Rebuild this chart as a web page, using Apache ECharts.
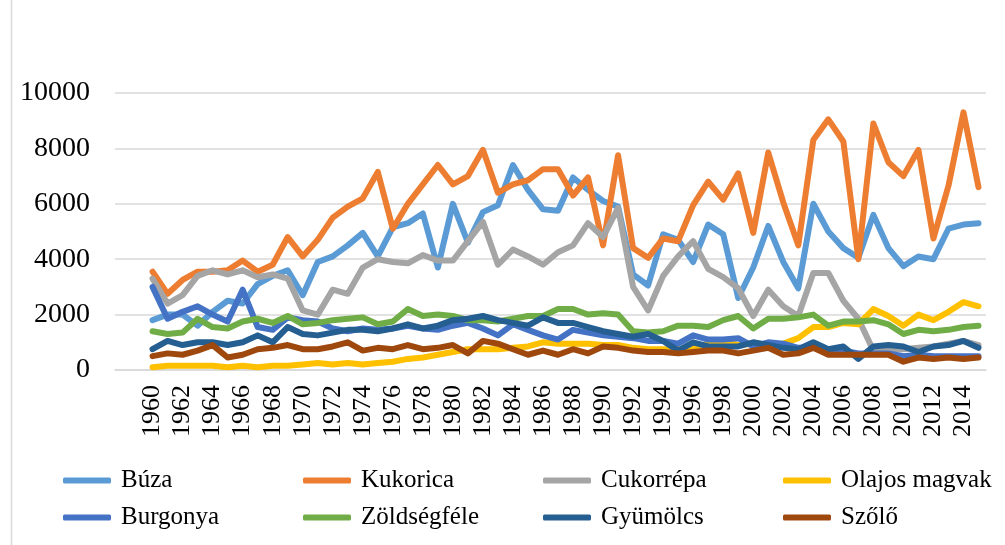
<!DOCTYPE html>
<html>
<head>
<meta charset="utf-8">
<script src="https://cdn.jsdelivr.net/npm/echarts@6/dist/echarts.min.js"></script>
<style>
  html, body { margin: 0; padding: 0; background: #fff; }
  #chart { width: 1005px; height: 545px; }
</style>
</head>
<body>
<div id="chart"></div>
<script>
// evek
const years = []
for (let y = 1960; y <= 2015; y++) years.push(String(y))

const buza = [1800, 2000, 2000, 1600, 2100, 2500, 2400, 3100, 3400, 3600, 2700, 3900, 4100, 4500, 4950, 4100, 5150, 5300, 5650, 3700,
  6000, 4600, 5700, 5950, 7400, 6500, 5800, 5750, 6950, 6500, 6100, 5900, 3450, 3050, 4900, 4700, 3900, 5250, 4900, 2600,
  3700, 5200, 3900, 2950, 6000, 5000, 4400, 4050, 5600, 4400, 3750, 4100, 4000, 5100, 5250, 5300]
const kukorica = [3550, 2750, 3250, 3550, 3550, 3600, 3950, 3550, 3800, 4800, 4100, 4700, 5500, 5900, 6200, 7150, 5100, 6000, 6700, 7400,
  6700, 7000, 7950, 6400, 6700, 6850, 7250, 7250, 6300, 6950, 4500, 7750, 4400, 4050, 4750, 4650, 5950, 6800, 6150, 7100,
  4950, 7850, 6050, 4500, 8300, 9050, 8250, 4000, 8900, 7500, 7000, 7950, 4750, 6650, 9300, 6600]
const cukorrepa = [3300, 2400, 2700, 3400, 3600, 3450, 3600, 3350, 3450, 3300, 2150, 2000, 2900, 2750, 3700, 4000, 3900, 3850, 4150, 3950,
  3950, 4650, 5350, 3800, 4350, 4100, 3800, 4250, 4500, 5300, 4800, 5850, 3000, 2150, 3400, 4100, 4650, 3650, 3350, 2950,
  1950, 2900, 2300, 1950, 3500, 3500, 2500, 1850, 700, 750, 750, 800, 850, 950, 1050, 900]
const olajos = [100, 150, 150, 150, 150, 100, 150, 100, 150, 150, 200, 250, 200, 250, 200, 250, 300, 400, 450, 550,
  650, 750, 750, 750, 800, 850, 1000, 950, 950, 950, 900, 900, 800, 750, 750, 750, 800, 950, 1050, 900,
  950, 900, 950, 1150, 1550, 1550, 1700, 1650, 2200, 1950, 1600, 2000, 1800, 2100, 2450, 2300]
const burgonya = [3000, 1850, 2100, 2300, 2000, 1750, 2900, 1550, 1450, 1900, 1800, 1750, 1500, 1400, 1500, 1450, 1500, 1600, 1500, 1450,
  1600, 1700, 1500, 1250, 1650, 1450, 1250, 1100, 1450, 1350, 1250, 1200, 1150, 1050, 1050, 950, 1250, 1100, 1100, 1150,
  850, 1000, 950, 800, 800, 700, 700, 600, 600, 600, 500, 550, 500, 500, 500, 500]
const zoldseg = [1400, 1300, 1350, 1850, 1550, 1500, 1750, 1850, 1700, 1950, 1650, 1700, 1800, 1850, 1900, 1650, 1750, 2200, 1950, 2000,
  1950, 1800, 1800, 1750, 1850, 1950, 1950, 2200, 2200, 2000, 2050, 2000, 1400, 1350, 1400, 1600, 1600, 1550, 1800, 1950,
  1500, 1850, 1850, 1900, 2000, 1600, 1750, 1750, 1800, 1650, 1300, 1450, 1400, 1450, 1550, 1600]
const gyumolcs = [750, 1050, 900, 1000, 1000, 900, 1000, 1250, 1000, 1550, 1300, 1250, 1350, 1450, 1450, 1400, 1500, 1650, 1500, 1600,
  1800, 1850, 1950, 1800, 1700, 1600, 1900, 1700, 1700, 1550, 1400, 1300, 1200, 1300, 1050, 700, 1000, 850, 850, 850,
  1000, 900, 800, 750, 1000, 750, 850, 400, 850, 900, 850, 650, 850, 900, 1050, 800]
const szolo = [500, 600, 550, 700, 900, 450, 550, 750, 800, 900, 750, 750, 850, 1000, 700, 800, 750, 900, 750, 800,
  900, 600, 1050, 950, 750, 550, 700, 550, 750, 600, 850, 800, 700, 650, 650, 600, 650, 700, 700, 600,
  700, 800, 550, 600, 800, 550, 550, 550, 550, 550, 300, 450, 400, 450, 400, 450]

const yTicks = [0, 2000, 4000, 6000, 8000, 10000]

const names = ['Búza', 'Kukorica', 'Cukorrépa', 'Olajos magvak', 'Burgonya', 'Zöldségféle', 'Gyümölcs', 'Szőlő']
const colors = ['#5B9BD5', '#ED7D31', '#A5A5A5', '#FFC000', '#4472C4', '#70AD47', '#255E91', '#9E480E']
const values = [buza, kukorica, cukorrepa, olajos, burgonya, zoldseg, gyumolcs, szolo]

const font = "'Liberation Serif', 'Times New Roman', serif"

// az elso ket kategoria ures (az eredeti abran is van hely 1960 elott)
const categories = ['', ''].concat(years)

const myChart = echarts.init(document.getElementById('chart'))

const series = names.map((name, i) => ({
  name: name,
  type: 'line',
  data: ['-', '-'].concat(values[i]),
  showSymbol: false,
  symbol: 'none',
  color: colors[i],
  lineStyle: { width: 6, cap: 'round', join: 'round' },
  animation: false
}))

// jelmagyarazat: 2 sor, 4 oszlop
const legends = names.map((name, i) => ({
  data: [name],
  icon: 'roundRect',
  left: 58 + (i % 4) * 240,
  top: (i < 4 ? 477 : 514) - 14,
  itemWidth: 48,
  itemHeight: 6,
  itemGap: 0,
  selectedMode: false,
  itemStyle: { borderWidth: 0 },
  textStyle: { fontFamily: font, fontSize: 25, color: '#000', padding: [0, 0, 0, 5] }
}))

let option = {
  backgroundColor: '#fff',
  animation: false,
  grid: { left: 115, right: 19, top: 93, bottom: 175 },
  legend: legends,
  xAxis: {
    type: 'category',
    data: categories,
    boundaryGap: true,
    axisLine: { lineStyle: { color: '#d9d9d9', width: 1.5 } },
    axisTick: { show: false },
    axisLabel: {
      interval: 1,
      rotate: 90,
      margin: 15,
      fontFamily: font,
      fontSize: 26,
      color: '#000'
    }
  },
  yAxis: {
    type: 'value',
    min: yTicks[0],
    max: yTicks[yTicks.length - 1],
    interval: 2000,
    axisLine: { show: false },
    axisTick: { show: false },
    splitLine: { lineStyle: { color: '#d9d9d9', width: 1.5 } },
    axisLabel: {
      margin: 25,
      fontFamily: font,
      fontSize: 28,
      color: '#000',
      formatter: (v) => String(v)
    }
  },
  graphic: [{
    type: 'line',
    shape: { x1: 11.5, y1: 0, x2: 11.5, y2: 545 },
    style: { stroke: '#d9d9d9', lineWidth: 1.5 }
  }],
  series: series
}

myChart.setOption(option)
</script>
</body>
</html>
